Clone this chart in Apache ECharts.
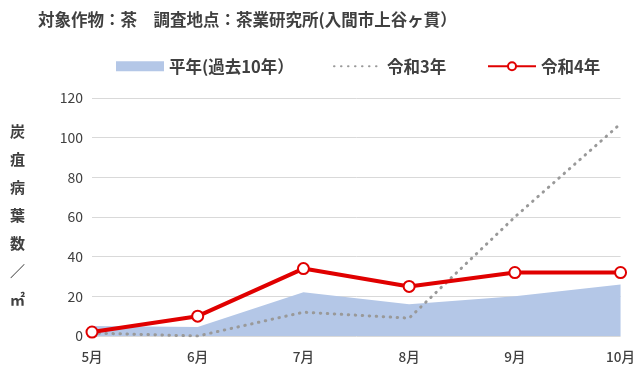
<!DOCTYPE html>
<html>
<head>
<meta charset="utf-8">
<script src="https://cdn.jsdelivr.net/npm/echarts@6/dist/echarts.min.js"></script>
<style>
  html, body { margin: 0; padding: 0; background: #fff; }
  #chart { width: 638px; height: 374px; }
</style>
</head>
<body>
<div id="chart"></div>
<script>
// Monthly counts of anthracnose-infected leaves per square metre
const months = ['5月', '6月', '7月', '8月', '9月', '10月'];
const normalYear = [5, 4.5, 22, 16, 20, 26];   // 平年(過去10年）
const reiwa3 = [1.5, 0, 12, 9, 60, 107];       // 令和3年
const reiwa4 = [2, 10, 34, 25, 32, 32];        // 令和4年
const yTicks = [0, 20, 40, 60, 80, 100, 120];

const FONT = '"Noto Sans CJK JP", "Noto Sans", sans-serif';
const TEXT = '#404040';

const chart = echarts.init(document.getElementById('chart'));

const legendBase = {
  top: 53,
  itemWidth: 48,
  itemHeight: 10,
  itemGap: 6,
  textStyle: { fontFamily: FONT, fontSize: 16.5, fontWeight: 'bold', color: TEXT }
};

chart.setOption({
  backgroundColor: '#fff',
  animation: false,
  title: {
    text: '対象作物：茶　調査地点：茶業研究所(入間市上谷ヶ貫）',
    left: 33,
    top: 6,
    textStyle: { fontFamily: FONT, fontSize: 16.5, fontWeight: 'bold', color: TEXT }
  },
  legend: [
    Object.assign({}, legendBase, { left: 111, data: [{ name: '平年(過去10年）', icon: 'rect' }] }),
    Object.assign({}, legendBase, { left: 328, data: [{ name: '令和3年', itemStyle: { opacity: 0 } }] }),
    Object.assign({}, legendBase, { left: 482, data: ['令和4年'] })
  ],
  graphic: [{
    type: 'text',
    left: 10,
    top: 117,
    style: {
      text: ['炭', '疽', '病', '葉', '数', '／', '㎡'].join('\n'),
      font: 'bold 15px ' + FONT,
      fill: TEXT,
      lineHeight: 28,
      align: 'center'
    }
  }],
  grid: { left: 92, right: 17, top: 98, bottom: 38, containLabel: false },
  xAxis: {
    type: 'category',
    data: months,
    boundaryGap: false,
    axisLine: { show: false },
    axisTick: { show: false },
    axisLabel: { fontFamily: FONT, fontSize: 13.5, fontWeight: 500, color: TEXT, margin: 14 }
  },
  yAxis: {
    type: 'value',
    min: yTicks[0],
    max: yTicks[yTicks.length - 1],
    interval: 20,
    axisLine: { show: false },
    axisTick: { show: false },
    axisLabel: { fontFamily: FONT, fontSize: 14, color: TEXT, margin: 9 },
    splitLine: { lineStyle: { color: '#d9d9d9', width: 1 } }
  },
  series: [
    {
      name: '平年(過去10年）',
      type: 'line',
      data: normalYear,
      symbol: 'none',
      lineStyle: { width: 0 },
      itemStyle: { color: '#b4c7e7' },
      areaStyle: { color: '#b4c7e7', opacity: 1 },
      z: 1
    },
    {
      name: '令和3年',
      type: 'line',
      data: reiwa3,
      symbol: 'none',
      itemStyle: { color: '#999999' },
      lineStyle: { color: '#999999', width: 3, type: [0.5, 6.5], cap: 'round' },
      z: 2
    },
    {
      name: '令和4年',
      type: 'line',
      data: reiwa4,
      symbol: 'circle',
      symbolSize: 11,
      itemStyle: { color: '#fff', borderColor: '#e00000', borderWidth: 2 },
      lineStyle: { color: '#e00000', width: 4 },
      z: 3
    }
  ]
});
</script>
</body>
</html>
